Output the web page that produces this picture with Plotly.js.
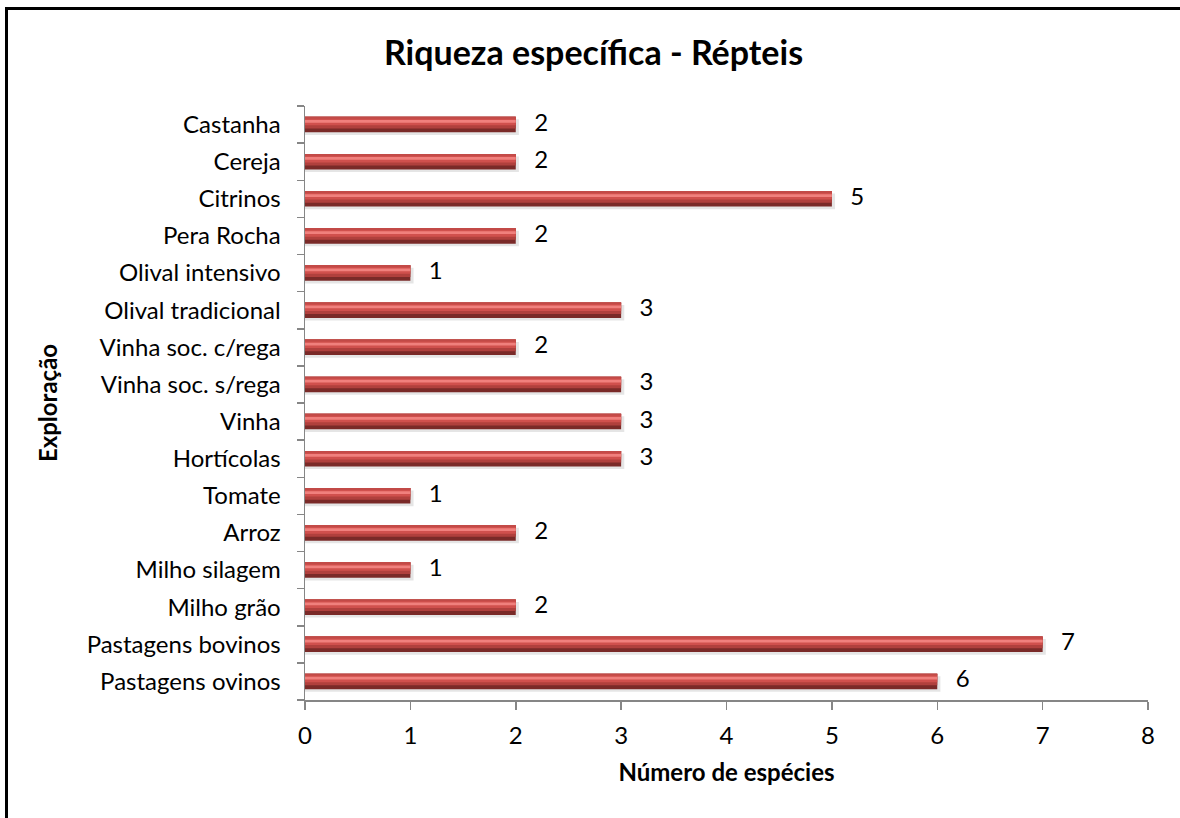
<!DOCTYPE html>
<html>
<head>
<meta charset="utf-8">
<script src="https://cdn.plot.ly/plotly-3.0.1.min.js"></script>
<style>
html,body{margin:0;padding:0;background:#fff;width:1180px;height:818px;overflow:hidden;}
#ftop{position:absolute;left:5px;top:7px;width:1175px;height:3px;background:#000;z-index:5;}
#fleft{position:absolute;left:5px;top:7px;width:3px;height:811px;background:#000;z-index:5;}
#cover{position:absolute;left:1172px;top:10px;width:8px;height:808px;background:#fff;z-index:6;}
#chart{position:absolute;left:0;top:0;width:1180px;height:818px;}
</style>
</head>
<body>
<div id="chart"></div>
<div id="ftop"></div>
<div id="fleft"></div>
<div id="cover"></div>
<script>
// Categories listed bottom to top
const categories = ["Pastagens ovinos","Pastagens bovinos","Milho grão","Milho silagem","Arroz","Tomate","Hortícolas","Vinha","Vinha soc. s/rega","Vinha soc. c/rega","Olival tradicional","Olival intensivo","Pera Rocha","Citrinos","Cereja","Castanha"];
const values = [6,7,2,1,2,1,3,3,3,2,3,1,2,5,2,2];
const xTicks = [0,1,2,3,4,5,6,7,8];

const font = "Lato, 'Open Sans', sans-serif";
const W = 0.42;

function barLayer(color, width, offset, extra) {
  return Object.assign({
    type: 'bar', orientation: 'h', x: values, y: categories,
    width: categories.map(() => width), offset: categories.map(() => offset),
    marker: {color: color, line: {width: 0}},
    hoverinfo: 'skip', showlegend: false
  }, extra || {});
}

const traces = [
  // soft shadow
  barLayer('rgba(0,0,0,0.10)', W, -W/2 - 0.07, {x: values.map(v => v + 0.03)}),
  barLayer('#7a2a28', W, -W/2),
  barLayer('#b0403d', W*0.75, W/2 - W*0.75),
  barLayer('#d0504d', W*0.55, W/2 - W*0.55),
  barLayer('#f0807d', W*0.18, W/2 - W*0.38),
  barLayer('#c24a47', W*0.12, W/2 - W*0.12),
  // labels
  {
    type: 'scatter', mode: 'text', x: values, y: categories,
    text: values.map(String), textposition: 'middle right',
    texttemplate: '   %{text}',
    textfont: {family: font, size: 24, color: '#000'},
    hoverinfo: 'skip', showlegend: false, cliponaxis: false
  }
];

const layout = {
  width: 1180, height: 818,
  margin: {l: 305, r: 32, t: 106, b: 118},
  paper_bgcolor: '#fff', plot_bgcolor: '#fff',
  barmode: 'overlay',
  title: {text: '<b>Riqueza específica - Répteis</b>', font: {family: font, size: 34, color: '#000'}, x: 0.503, xanchor: 'center', xref: 'container', y: 60, yref: 'container', yanchor: 'middle'},
  xaxis: {
    range: [0, 8], tickvals: xTicks, ticktext: xTicks.map(String),
    showgrid: false, zeroline: false,
    showline: true, linecolor: '#868686', linewidth: 1.5,
    ticks: 'outside', ticklen: 8, tickcolor: '#868686', tickwidth: 1.5,
    ticklabelstandoff: 6,
    tickfont: {family: font, size: 24, color: '#000'},
    title: {text: '<b>Número de espécies</b>', font: {family: font, size: 24, color: '#000'}, standoff: 16},
    automargin: false,
    fixedrange: true
  },
  yaxis: {
    type: 'category', categoryorder: 'array', categoryarray: categories,
    range: [-0.5, 15.5],
    showgrid: false, zeroline: false,
    showline: true, linecolor: '#868686', linewidth: 1.5,
    ticks: 'outside', ticklen: 7, tickcolor: '#868686', tickwidth: 1.5,
    tickson: 'boundaries',
    ticklabelstandoff: 18,
    tickfont: {family: font, size: 24, color: '#000'},
    title: {text: '<b>Exploração</b>', font: {family: font, size: 24, color: '#000'}, standoff: 22},
    automargin: false,
    fixedrange: true
  }
};

Plotly.newPlot('chart', traces, layout, {displayModeBar: false, staticPlot: true});
</script>
</body>
</html>
